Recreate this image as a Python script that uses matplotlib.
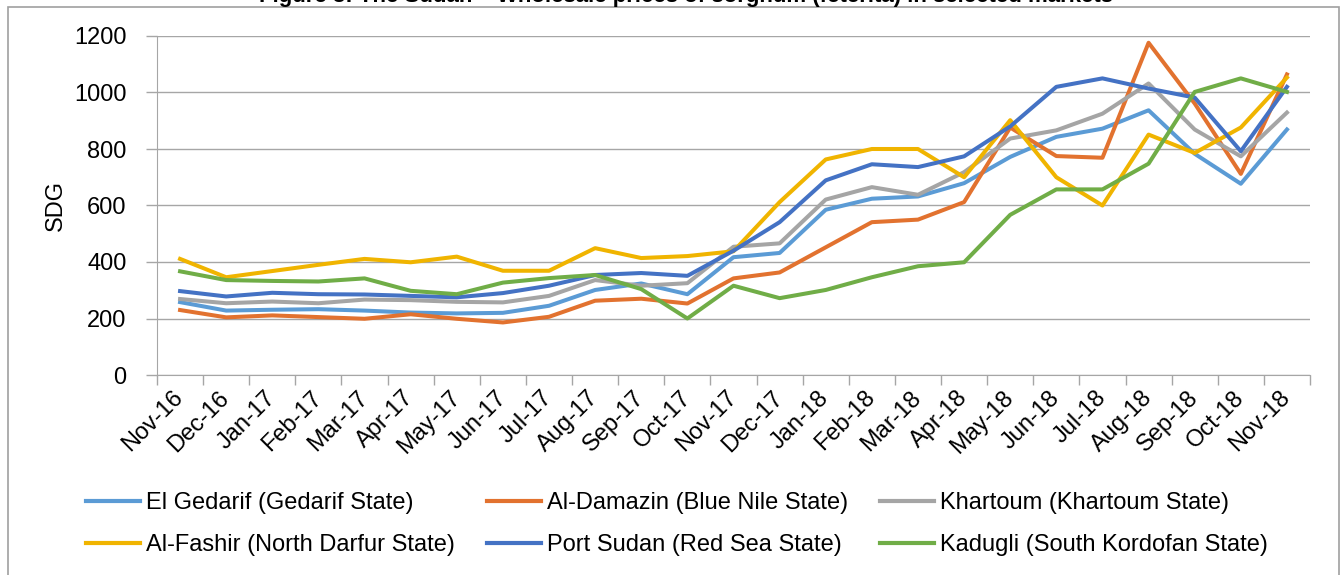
import numpy as np
import matplotlib
matplotlib.use('Agg')
import matplotlib.pyplot as plt
from matplotlib.patches import Rectangle

plt.rcParams['font.family'] = ['Liberation Sans', 'DejaVu Sans']

# ── DATA (SDG) ──────────────────────────────────────────────────
months = ['Nov-16', 'Dec-16', 'Jan-17', 'Feb-17', 'Mar-17', 'Apr-17', 'May-17',
          'Jun-17', 'Jul-17', 'Aug-17', 'Sep-17', 'Oct-17', 'Nov-17', 'Dec-17',
          'Jan-18', 'Feb-18', 'Mar-18', 'Apr-18', 'May-18', 'Jun-18', 'Jul-18',
          'Aug-18', 'Sep-18', 'Oct-18', 'Nov-18']

el_gedarif = [258, 228, 231, 233, 228, 221, 218, 220, 245, 301, 324, 286,
              417, 432, 585, 624, 632, 679, 772, 843, 872, 937, 783, 677, 869]
al_damazin = [230, 204, 211, 205, 199, 215, 199, 186, 206, 263, 270, 253,
              342, 363, 452, 541, 550, 612, 876, 775, 769, 1176, 961, 712, 1064]
khartoum = [269, 254, 260, 254, 267, 265, 259, 257, 280, 336, 316, 325,
            454, 466, 621, 665, 638, 718, 837, 866, 925, 1032, 869, 774, 929]
al_fashir = [411, 346, 368, 390, 411, 399, 419, 369, 369, 449, 414, 421,
             438, 612, 763, 800, 800, 700, 902, 700, 600, 851, 786, 876, 1053]
port_sudan = [297, 278, 291, 286, 285, 280, 275, 290, 316, 354, 361, 351,
              440, 541, 689, 746, 736, 774, 880, 1020, 1050, 1014, 982, 792, 1020]
kadugli = [367, 336, 333, 331, 342, 298, 286, 327, 343, 354, 304, 200,
           316, 272, 301, 346, 385, 399, 567, 657, 657, 748, 1002, 1050, 1002]

series = [
    ('El Gedarif (Gedarif State)', el_gedarif, '#5B9BD5'),
    ('Al-Damazin (Blue Nile State)', al_damazin, '#E2722F'),
    ('Khartoum (Khartoum State)', khartoum, '#A5A5A5'),
    ('Al-Fashir (North Darfur State)', al_fashir, '#F0B400'),
    ('Port Sudan (Red Sea State)', port_sudan, '#4472C4'),
    ('Kadugli (South Kordofan State)', kadugli, '#70AD47'),
]

title = 'Figure 3: The Sudan \u2013 Wholesale prices of sorghum (feterita) in selected markets'

# ── FIGURE ──────────────────────────────────────────────────────
W, H = 1341, 575
fig = plt.figure(figsize=(W / 100, H / 100), dpi=100)
ax = fig.add_axes([157 / W, 1 - 375 / H, (1310 - 157) / W, (375 - 36) / H])

grid_col = '#A6A6A6'
fs = 17

x = np.arange(len(months))
lines = []
for name, vals, col in series:
    ln, = ax.plot(x, vals, color=col, lw=2.9, label=name)
    lines.append(ln)

ax.set_xlim(-0.5, len(months) - 0.5)
ax.set_ylim(0, 1200)
ax.set_yticks(np.arange(0, 1201, 200))
ax.yaxis.grid(True, color=grid_col, lw=1)
ax.set_axisbelow(True)

# category boundaries get the tick marks, labels sit at the centres
ax.set_xticks(np.arange(-0.5, len(months), 1))
ax.set_xticklabels([])
ax.set_xticks(x, minor=True)
ax.set_xticklabels(months, minor=True, rotation=45, ha='right', va='center',
                   rotation_mode='anchor', fontsize=fs)
ax.tick_params(axis='x', which='major', length=7, width=1, color=grid_col,
               direction='out')
ax.tick_params(axis='x', which='minor', length=0, pad=14)
ax.tick_params(axis='y', length=8, width=1, color=grid_col, labelsize=fs, pad=14)

for s in ['top', 'right']:
    ax.spines[s].set_visible(False)
for s in ['left', 'bottom']:
    ax.spines[s].set_color(grid_col)

ax.set_ylabel('SDG', fontsize=fs, labelpad=5)

fig.text(686 / W, 1 - 2 / H, title, ha='center', va='baseline',
         fontsize=16, fontweight='bold')

# legend reads row by row in the reference
order = [0, 3, 1, 4, 2, 5]
leg = fig.legend([lines[i] for i in order], [series[i][0] for i in order],
                 loc='upper left', bbox_to_anchor=(86 / W, 1 - 492 / H),
                 ncol=3, frameon=False, fontsize=fs, handlelength=2.3,
                 handletextpad=0.25, columnspacing=1.35, labelspacing=0.85,
                 borderaxespad=0, borderpad=0)
for h in leg.get_lines():
    h.set_linewidth(3)

fig.add_artist(Rectangle((8 / W, -0.05), (1339 - 8) / W, 1.05 - 7 / H,
                         transform=fig.transFigure, fill=False,
                         edgecolor='#A0A0A0', lw=1.2))

fig.savefig('out.png', dpi=100)
